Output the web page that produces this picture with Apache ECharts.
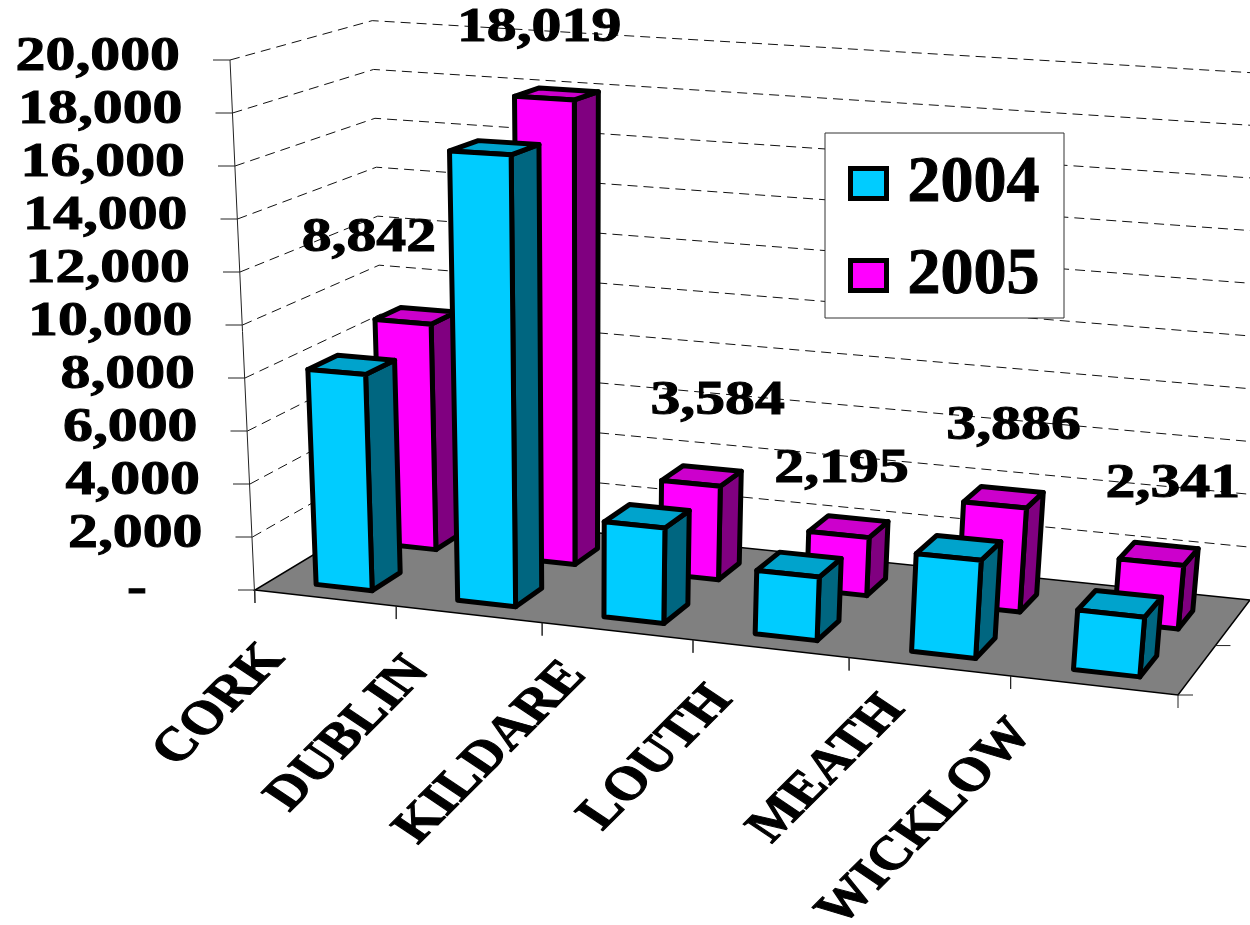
<!DOCTYPE html>
<html>
<head>
<meta charset="utf-8">
<style>html,body{margin:0;padding:0;background:#fff}#chart{width:1250px;height:925px}</style>
<script src="https://cdn.jsdelivr.net/npm/echarts@6/dist/echarts.min.js"></script>
</head>
<body>
<div id="chart"></div>
<script>
// Chart data
const categories = ['CORK', 'DUBLIN', 'KILDARE', 'LOUTH', 'MEATH', 'WICKLOW'];
const years = ['2004', '2005'];
const values2004 = [8150, 16800, 3500, 2300, 3500, 2100];
const values2005 = [8842, 18019, 3584, 2195, 3886, 2341];
const axisTicks = [0, 2000, 4000, 6000, 8000, 10000, 12000, 14000, 16000, 18000, 20000];

// Hand-placed offsets of the value labels and category names
const labelNudge = [[-32, -83], [-3, -70], [29, -82], [5, -65], [21, -78], [24, -78]];
const nameNudge = [[-122, 45], [-123, 41], [-117, 28], [-127, 35], [-116, 26], [-155, 31]];

const FONT = '"Liberation Serif", "Times New Roman", serif';
const STRETCH = 1.22;

// Perspective of the chart box, built from its corners on screen.
// u runs along the categories, v into the depth, w up the value scale.
const corner = {
  front0: [255, 590], front1: [1178, 695], back1: [1250, 600], back0: [386, 511],
  topFront0: [230, 60], topBack1: [1301, 65]
};

function buildProjection(c) {
  const [x0, y0] = c.front0, [x1, y1] = c.front1, [x2, y2] = c.back1, [x3, y3] = c.back0;
  const dx1 = x1 - x2, dx2 = x3 - x2, dx3 = x0 - x1 + x2 - x3;
  const dy1 = y1 - y2, dy2 = y3 - y2, dy3 = y0 - y1 + y2 - y3;
  const den = dx1 * dy2 - dx2 * dy1;
  const g = (dx3 * dy2 - dx2 * dy3) / den, h = (dx1 * dy3 - dx3 * dy1) / den;
  const mu = [x1 - x0 + g * x1, y1 - y0 + g * y1, g];
  const mv = [x3 - x0 + h * x3, y3 - y0 + h * y3, h];
  const m0 = [x0, y0, 1];
  // Vertical vanishing point: where the two upright box edges meet
  const ax = (c.topFront0[0] - x0) / (c.topFront0[1] - y0);
  const bx = (c.topBack1[0] - x2) / (c.topBack1[1] - y2);
  const vy = (x2 - bx * y2 - x0 + ax * y0) / (ax - bx);
  const vx = x0 + ax * (vy - y0);
  const gamma = (c.topFront0[1] - y0) / (vy - c.topFront0[1]);
  const mw = [gamma * vx, gamma * vy, gamma];
  const raw = (u, v, w) => {
    const d = mu[2] * u + mv[2] * v + mw[2] * w + m0[2];
    return [
      (mu[0] * u + mv[0] * v + mw[0] * w + m0[0]) / d,
      (mu[1] * u + mv[1] * v + mw[1] * w + m0[1]) / d
    ];
  };
  return function (u, v, value) {
    // The value scale stays evenly spaced along the front upright edge
    const ty = y0 + (c.topFront0[1] - y0) * value;
    const w = (ty - y0) / (gamma * (vy - ty));
    const foot = raw(u, v, 0), head = raw(u, v, w);
    // Heights ease off slightly toward the back of the box
    const k = 1 - 0.01 * v - 0.021 * u * v;
    return [foot[0] + k * (head[0] - foot[0]), foot[1] + k * (head[1] - foot[1])];
  };
}
const project = buildProjection(corner);

// Grid coordinates to box fractions, going through the chart's own axes
function fracU(params, api, cat, offset) {
  const r = params.coordSys;
  return (api.coord([cat, 0])[0] + offset * api.size([1, 0])[0] - r.x) / r.width;
}
function fracW(params, api, value) {
  const r = params.coordSys;
  return (r.y + r.height - api.coord([0, value])[1]) / r.height;
}

const BAR_HALF = 0.2;
const BAR_SHIFT = 0.015;
const depthSlots = { '2004': [0.125, 0.34], '2005': [0.625, 0.825] };

function renderColumn(year, faces) {
  return function (params, api) {
    const cat = api.value(0), val = api.value(1);
    const u0 = fracU(params, api, cat, BAR_SHIFT - BAR_HALF), u1 = fracU(params, api, cat, BAR_SHIFT + BAR_HALF);
    const [v0, v1] = depthSlots[year];
    const w = fracW(params, api, val);
    const edge = { stroke: '#000', lineWidth: 5, lineJoin: 'round' };
    const poly = (pts, fill) => ({
      type: 'polygon', shape: { points: pts.map(p => project(p[0], p[1], p[2])) },
      style: Object.assign({ fill }, edge)
    });
    return {
      type: 'group', children: [
        poly([[u1, v0, 0], [u1, v1, 0], [u1, v1, w], [u1, v0, w]], faces.side),
        poly([[u0, v0, w], [u1, v0, w], [u1, v1, w], [u0, v1, w]], faces.top),
        poly([[u0, v0, 0], [u1, v0, 0], [u1, v0, w], [u0, v0, w]], faces.front)
      ]
    };
  };
}

// Text is drawn wider than tall, as in the slide this chart belongs to
function wideText(x, y, text, size, align, stretch) {
  return {
    type: 'group', x, y, scaleX: stretch, children: [{
      type: 'text',
      style: {
        text, fontFamily: FONT, fontWeight: 'bold', fontSize: size, fill: '#000',
        stroke: '#000', lineWidth: 1, align, verticalAlign: 'middle'
      }
    }]
  };
}

function thinLine(a, b, color) {
  return { type: 'line', shape: { x1: a[0], y1: a[1], x2: b[0], y2: b[1] }, style: { stroke: color || '#222', lineWidth: 1 } };
}

// Walls: dashed gridlines, value ticks and value labels
function renderWallTick(params, api) {
  const val = api.value(1);
  const w = fracW(params, api, val);
  const a = project(0, 0, w), b = project(0, 1, w), c = project(1, 1, w);
  const children = [thinLine([a[0] - 17, a[1]], a)];
  if (val > 0) {
    children.push({
      type: 'polyline', shape: { points: [a, b, c] },
      style: { stroke: '#111', lineWidth: 1, lineDash: [10, 6], fill: null }
    });
    children.push(wideText(a[0] - 50, a[1] - 3, val.toLocaleString('en-US'), 49, 'right', STRETCH));
  } else {
    children.push(wideText(a[0] - 108, a[1] - 1, '-', 49, 'right', STRETCH));
  }
  return { type: 'group', children };
}

// Floor plate with its edge ticks and the two frame lines
function renderFloor() {
  const p = [project(0, 0, 0), project(1, 0, 0), project(1, 1, 0), project(0, 1, 0)];
  const midRight = project(1, 0.5, 0);
  return {
    type: 'group', children: [
      { type: 'polygon', shape: { points: p }, style: { fill: '#808080', stroke: '#000', lineWidth: 1.5 } },
      thinLine(project(0, 0, 1), [p[0][0], p[0][1] + 13]),
      thinLine(p[1], [p[1][0] + 15, p[1][1]]),
      thinLine(midRight, [midRight[0] + 15, midRight[1]])
    ]
  };
}

// Category ticks on the front edge and the slanted names under them
const NAME_ANGLE = Math.atan(STRETCH);
function renderCategory(params, api) {
  const cat = api.value(0);
  const t0 = project(fracU(params, api, cat, -0.5), 0, 0);
  const t1 = project(fracU(params, api, cat, 0.5), 0, 0);
  const children = [thinLine(t0, [t0[0], t0[1] + 13]), thinLine(t1, [t1[0], t1[1] + 13])];
  const n = nameNudge[cat];
  children.push({
    type: 'group', x: t1[0] + n[0], y: t1[1] + n[1], scaleX: STRETCH, children: [{
      type: 'text', rotation: NAME_ANGLE,
      style: {
        text: categories[cat], fontFamily: FONT, fontWeight: 'bold', fontSize: 47, fill: '#000',
        stroke: '#000', lineWidth: 1, align: 'right', verticalAlign: 'middle'
      }
    }]
  });
  return { type: 'group', children };
}

// Value labels above the 2005 columns
function renderValueLabel(params, api) {
  const cat = api.value(0), val = api.value(1);
  const p = project(fracU(params, api, cat, 0), depthSlots['2005'][0], fracW(params, api, val));
  const n = labelNudge[cat];
  return wideText(p[0] + n[0], p[1] + n[1], val.toLocaleString('en-US'), 49, 'center', STRETCH);
}

const pairs = vals => vals.map((v, i) => [i, v]);

const option = {
  animation: false,
  backgroundColor: '#fff',
  grid: { left: 255, top: 60, right: 72, bottom: 335 },
  xAxis: { type: 'category', data: categories, show: false },
  yAxis: { type: 'value', min: 0, max: 20000, interval: 2000, show: false },
  legend: {
    data: years,
    orient: 'vertical',
    left: 825, top: 133,
    padding: [17, 24, 9, 23],
    itemGap: 25,
    itemWidth: 36, itemHeight: 30,
    icon: 'rect',
    itemStyle: { borderWidth: 5, borderColor: '#000' },
    backgroundColor: '#fff',
    borderColor: '#333', borderWidth: 1,
    textStyle: {
      fontFamily: FONT, fontWeight: 'bold', fontSize: 66, color: '#000',
      textBorderColor: '#000', textBorderWidth: 1, padding: [0, 0, 0, 16]
    }
  },
  series: [
    { type: 'custom', z: 1, silent: true, data: axisTicks.map(t => [0, t]), renderItem: renderWallTick },
    { type: 'custom', z: 2, silent: true, data: [[0, 0]], renderItem: renderFloor },
    { type: 'custom', z: 2, silent: true, data: pairs(categories.map(() => 0)), renderItem: renderCategory },
    {
      name: '2005', type: 'custom', z: 3, data: pairs(values2005),
      itemStyle: { color: '#FF00FF' },
      renderItem: renderColumn('2005', { front: '#FF00FF', side: '#800080', top: '#CC00CC' })
    },
    {
      name: '2004', type: 'custom', z: 4, data: pairs(values2004),
      itemStyle: { color: '#00CCFF' },
      renderItem: renderColumn('2004', { front: '#00CCFF', side: '#006680', top: '#00A3CC' })
    },
    { type: 'custom', z: 5, silent: true, data: pairs(values2005), renderItem: renderValueLabel }
  ]
};

echarts.init(document.getElementById('chart'), null, { renderer: 'canvas' }).setOption(option);
</script>
</body>
</html>
